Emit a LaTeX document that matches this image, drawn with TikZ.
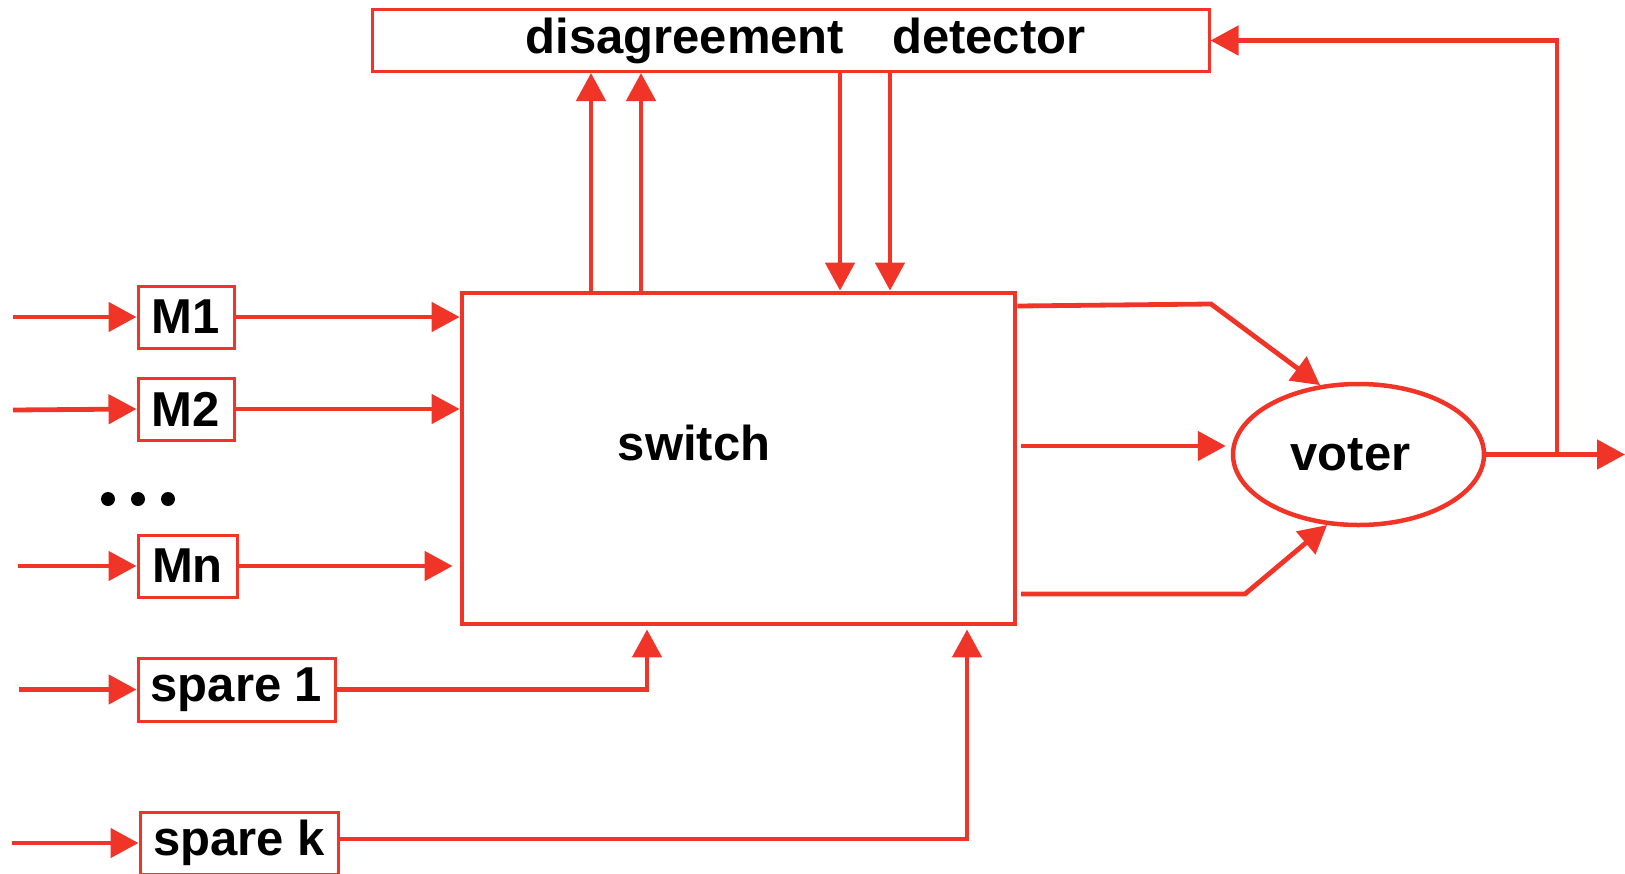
\documentclass[tikz,border=0pt]{standalone}
\usepackage{fontspec}
\setmainfont{Liberation Sans}
\usetikzlibrary{arrows.meta,shapes.geometric,calc}
\definecolor{lred}{RGB}{240,52,40}
\begin{document}
\begin{tikzpicture}[x=1pt,y=-1pt,
  conn/.style={draw=lred,line width=4.8pt,-{Triangle[length=28pt,width=29pt]}},
  txt/.style={font=\fontsize{49}{58}\selectfont\bfseries,text=black},
  box/.style={txt,draw=lred,line width=3pt,fill=white,inner sep=0pt,minimum height=62pt},
  lbl/.style={txt,inner sep=0pt}]
\useasboundingbox (0,0) rectangle (1625,873);
% main blocks
\node[box,minimum width=837pt] (det) at (790.5,40.5) {\hspace*{30pt}disagreement\hspace{48pt}detector};
\node[draw=lred,line width=4.8pt,minimum width=553pt,minimum height=331pt,inner sep=0pt] (sw) at (738.5,458.5) {};
\node[lbl] (swl) at (694,443) {switch};
\node[txt,draw=lred,line width=4.5pt,ellipse,minimum width=251pt,minimum height=141pt,inner sep=0pt] (vot) at (1358.5,454.5) {voter\hspace*{16pt}};
% modules
\node[box,minimum width=96pt] (m1) at (186,317) {M1};
\node[box,minimum width=96pt] (m2) at (186,409) {M2};
\node[box,minimum width=99pt] (mn) at (187.5,566) {Mn};
\node[box,minimum width=197pt,minimum height=63pt] (s1) at (236.5,689.5) {spare 1};
\node[box,minimum width=198pt] (sk) at (239,843) {spare k};
% dots
\fill (108,499) circle (7pt);
\fill (138,499) circle (7pt);
\fill (168,499) circle (7pt);
% free ends
\coordinate (in1) at (13,317);
\coordinate (in2) at (13,410);
\coordinate (inn) at (18,566);
\coordinate (ins1) at (19,689.5);
\coordinate (insk) at (12,843);
\coordinate (c1) at (647,0);
\coordinate (c2) at (967,0);
\coordinate (u1) at (591,0);
\coordinate (u2) at (641,0);
\coordinate (d1) at (840,0);
\coordinate (d2) at (890,0);
\coordinate (t0) at (0,306);
\coordinate (a1) at (1211,304);
\coordinate (mid0) at (1021,446);
\coordinate (b0) at (1021,594);
\coordinate (b1) at (1245,594);
\coordinate (out) at (1625,454.5);
\coordinate (fb) at (1557,454.5);
% inputs
\draw[conn] (in1) -- (m1.west);
\draw[conn] (in2) -- (m2.west);
\draw[conn] (inn) -- (mn.west);
\draw[conn] (ins1) -- (s1.west);
\draw[conn] (insk) -- (sk.west);
% modules to switch
\draw[conn] (m1.east) -- (m1.east -| sw.west);
\draw[conn] (m2.east) -- (m2.east -| sw.west);
\draw[conn] (mn.east) -- ([xshift=-7pt]mn.east -| sw.west);
\draw[conn] (s1.east) -| ([yshift=-3pt]c1 |- sw.south);
\draw[conn] ([yshift=4pt]sk.east) -| ([yshift=-3pt]c2 |- sw.south);
% switch <-> detector
\draw[conn] (u1 |- sw.north) -- (u1 |- det.south);
\draw[conn] (u2 |- sw.north) -- (u2 |- det.south);
\draw[conn] (d1 |- det.south) -- (d1 |- sw.north);
\draw[conn] (d2 |- det.south) -- (d2 |- sw.north);
% switch to voter
\draw[conn] (sw.east |- t0) -- (a1) -- (vot.119);
\draw[conn] (mid0) -- ([xshift=-5pt]vot.west |- mid0);
\draw[conn] (b0) -- (b1) -- (vot.246);
% output and feedback
\draw[conn] (vot.east) -- (out);
\draw[conn] (fb) |- (det.east);
\end{tikzpicture}
\end{document}
